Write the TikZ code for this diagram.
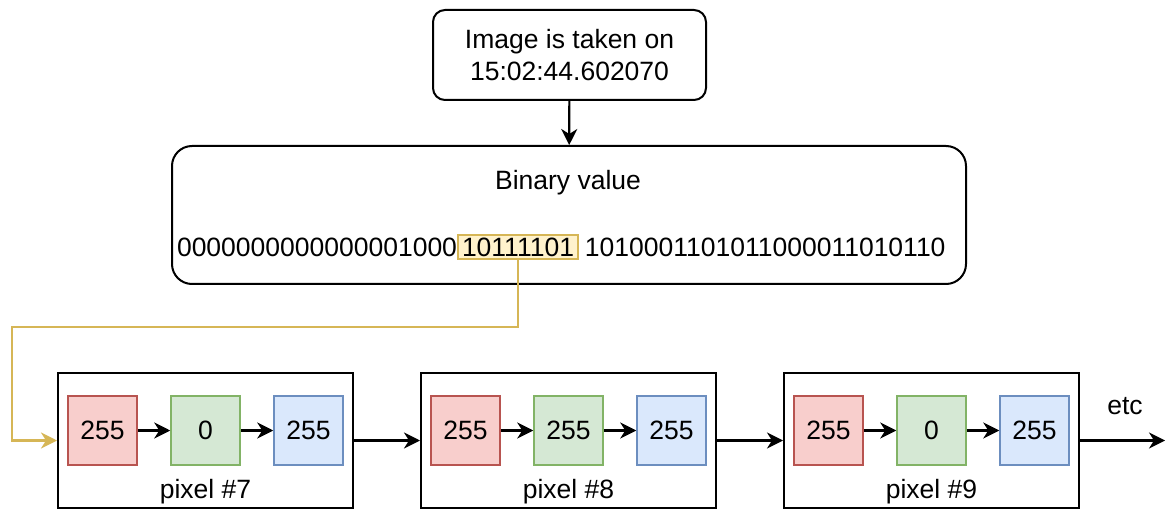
\documentclass[tikz,border=0pt]{standalone}
\usepackage{fontspec}
\setmainfont{Liberation Sans}
\usetikzlibrary{arrows.meta}

\definecolor{redfill}{HTML}{F8CECC}
\definecolor{redline}{HTML}{B85450}
\definecolor{greenfill}{HTML}{D5E8D4}
\definecolor{greenline}{HTML}{82B366}
\definecolor{bluefill}{HTML}{DAE8FC}
\definecolor{blueline}{HTML}{6C8EBF}
\definecolor{yellowfill}{HTML}{FFF2CC}
\definecolor{yellowline}{HTML}{D6B656}

\tikzset{
  txt/.style={font=\fontsize{26.5}{32}\selectfont, inner sep=0pt, align=center},
  roundbox/.style={draw=black, line width=2pt, fill=white},
  pixbox/.style={draw=black, line width=2pt, minimum width=295pt, minimum height=135pt, inner sep=0pt},
  chan/.style={txt, line width=1.5pt, minimum width=69pt, minimum height=69pt},
  rbox/.style={chan, draw=redline, fill=redfill},
  gbox/.style={chan, draw=greenline, fill=greenfill},
  bbox/.style={chan, draw=blueline, fill=bluefill},
  arr/.style={-{Stealth[length=16pt, width=16pt, inset=5pt]}, line width=2.2pt, draw=black},
  yarr/.style={-{Stealth[length=16pt, width=16pt, inset=5pt, fill=yellowline]}, line width=2.2pt, draw=yellowline},
}

\begin{document}
\begin{tikzpicture}[x=1pt, y=-1pt]
  \useasboundingbox (0,0) rectangle (1166,510);

  % timestamp box
  \node[roundbox, rounded corners=12pt, minimum width=273pt, minimum height=90pt, inner sep=0pt] (stamp) at (569.5,55) {};
  \node[txt] (stamptxt) at (569.5,55) {Image is taken on\\15:02:44.602070};

  % binary value box
  \node[roundbox, rounded corners=20pt, minimum width=794pt, minimum height=138pt, inner sep=0pt] (bin) at (569,215) {};
  \node[txt] (bintitle) at (568,183) {Binary value};

  % bit string with the highlighted byte
  \node[txt, draw=yellowline, fill=yellowfill, line width=1.5pt, inner xsep=4pt, minimum height=24pt] (hl) at (518,247) {10111101};
  \node[txt, anchor=east] (pre) at (hl.west) {0000000000000001000};
  \node[txt, anchor=west] (post) at ([xshift=6pt]hl.east) {1010001101011000011010110};

  \draw[arr] (stamp) -- (bin);

  % pixels
  \foreach \i/\dx/\gv in {7/0/0, 8/363/255, 9/726/0} {
    \node[pixbox] (p\i) at (205.5+\dx,440.5) {};
    \node[txt] (l\i) at (205.5+\dx,492) {pixel \#\i};
    \node[rbox] (r\i) at (102.5+\dx,430.5) {255};
    \node[gbox] (g\i) at (205.5+\dx,430.5) {\gv};
    \node[bbox] (b\i) at (308.5+\dx,430.5) {255};
    \draw[arr] (r\i) -- (g\i);
    \draw[arr] (g\i) -- (b\i);
  }

  \draw[arr] (p7) -- (p8);
  \draw[arr] (p8) -- (p9);

  \coordinate (etcend) at (1165,440.5);
  \draw[arr] (p9) -- (etcend);
  \node[txt] (etc) at (1125,406) {etc};

  % highlighted byte leads to the first pixel
  \coordinate (bend) at (12,327);
  \draw[yarr] (hl.south) |- (bend) |- (p7.west);
\end{tikzpicture}
\end{document}
